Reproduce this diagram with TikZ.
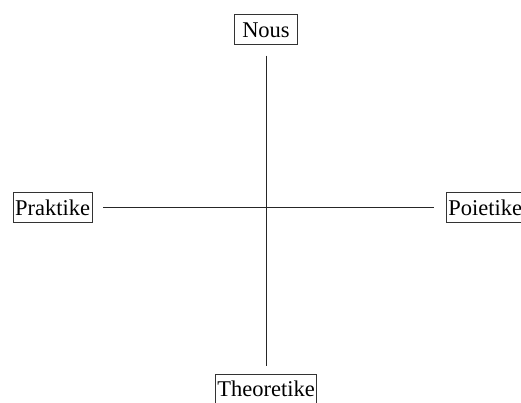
\documentclass[tikz,border=0pt]{standalone}
\usepackage{fontspec}
\setmainfont{Liberation Serif}
\begin{document}
\begin{tikzpicture}[x=1pt,y=1pt,
  term/.style={draw=black!80, line width=0.9pt, inner xsep=2pt, inner ysep=7pt,
    text height=15.5pt, text depth=0pt, font=\fontsize{22.5}{27}\selectfont},
  axis/.style={draw=black!85, line width=1pt}]
  \useasboundingbox (0,0) rectangle (521,-403);
  % the four poles
  \node[term, minimum width=63pt] (nous) at (266,-29.5) {Nous};
  \node[term] (prak) at (52.5,-207.5) {Praktike};
  \node[term, anchor=west] (poie) at (446,-207.5) {Poietike};
  \node[term, anchor=north] (theo) at (266,-374) {Theoretike};
  % the two crossing axes
  \draw[axis, shorten <=11pt, shorten >=8.5pt] (nous) -- (theo);
  \draw[axis, shorten <=11pt, shorten >=12pt] (prak) -- (poie);
\end{tikzpicture}
\end{document}
